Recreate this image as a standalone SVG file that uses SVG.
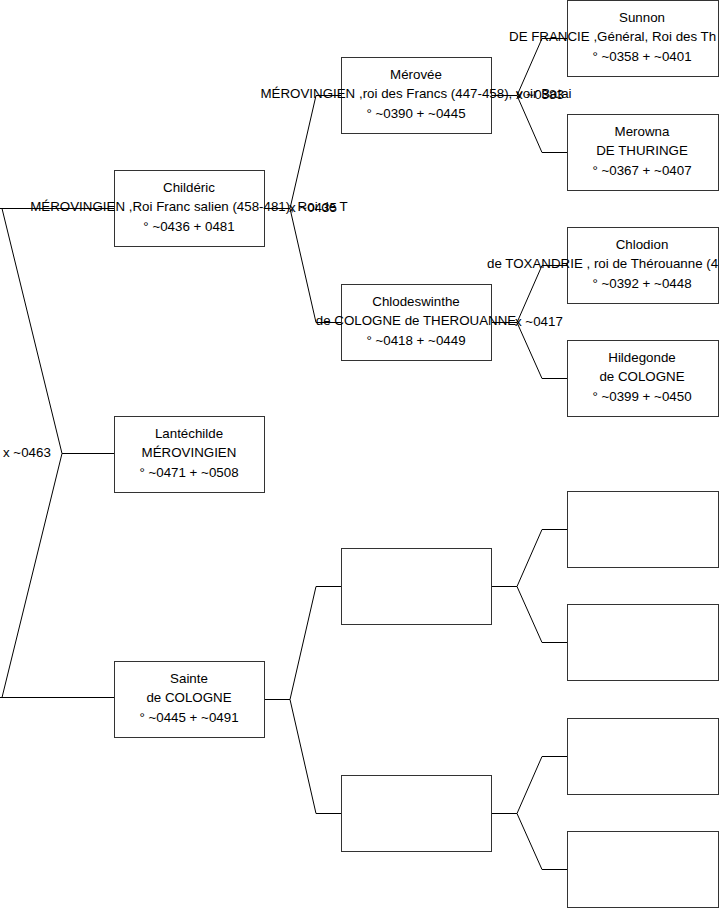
<svg xmlns="http://www.w3.org/2000/svg" width="719" height="908" viewBox="0 0 719 908">
<style>
.box{fill:#fff;stroke:#333;stroke-width:1}
.ln{fill:none;stroke:#000;stroke-width:1}
text{font-family:"Liberation Sans",Arial,sans-serif;font-size:13.33px;fill:#000}
.c{text-anchor:middle}
</style>
<rect width="719" height="908" fill="#fff"/>
<g id="connectors">
<path class="ln" d="M0,208.5H114 M2,208.5L62,453.5L2,697.5 M0,697.5H114 M62,453.5H114"/>
<path class="ln" d="M264,208.5H290 M316,95.5L290,208.5L316,322.5 M316,95.5H341 M316,322.5H341"/>
<path class="ln" d="M491,95.5H517 M542,38.5L517,95.5L542,152.5 M542,38.5H567 M542,152.5H567"/>
<path class="ln" d="M491,322.5H517 M542,265.5L517,322.5L542,378.5 M542,265.5H567 M542,378.5H567"/>
<path class="ln" d="M264,699.5H290 M316,586.5L290,699.5L316,813.5 M316,586.5H341 M316,813.5H341"/>
<path class="ln" d="M491,586.5H517 M542,529.5L517,586.5L542,642.5 M542,529.5H567 M542,642.5H567"/>
<path class="ln" d="M491,813.5H517 M542,756.5L517,813.5L542,869.5 M542,756.5H567 M542,869.5H567"/>
</g>
<g id="childeric">
<rect class="box" x="114.5" y="170.5" width="150" height="76"/>
<text class="c" x="189" y="191.5">Childéric</text>
<text class="c" x="189" y="211">MÉROVINGIEN ,Roi Franc salien (458-481), Roi de T</text>
<text class="c" x="189" y="230.5">° ~0436 + 0481</text>
</g>
<g id="lantechilde">
<rect class="box" x="114.5" y="416.5" width="150" height="76"/>
<text class="c" x="189" y="437.5">Lantéchilde</text>
<text class="c" x="189" y="457">MÉROVINGIEN</text>
<text class="c" x="189" y="476.5">° ~0471 + ~0508</text>
</g>
<g id="sainte">
<rect class="box" x="114.5" y="661.5" width="150" height="76"/>
<text class="c" x="189" y="682.5">Sainte</text>
<text class="c" x="189" y="702">de COLOGNE</text>
<text class="c" x="189" y="721.5">° ~0445 + ~0491</text>
</g>
<g id="merovee">
<rect class="box" x="341.5" y="57.5" width="150" height="76"/>
<text class="c" x="416" y="78.5">Mérovée</text>
<text class="c" x="416" y="98">MÉROVINGIEN ,roi des Francs (447-458), voir Batai</text>
<text class="c" x="416" y="117.5">° ~0390 + ~0445</text>
</g>
<g id="chlodeswinthe">
<rect class="box" x="341.5" y="284.5" width="150" height="76"/>
<text class="c" x="416" y="305.5">Chlodeswinthe</text>
<text class="c" x="416" y="325">de COLOGNE de THEROUANNE</text>
<text class="c" x="416" y="344.5">° ~0418 + ~0449</text>
</g>
<g id="empty1"><rect class="box" x="341.5" y="548.5" width="150" height="76"/></g>
<g id="empty2"><rect class="box" x="341.5" y="775.5" width="150" height="76"/></g>
<g id="sunnon">
<rect class="box" x="567.5" y="0.5" width="151" height="76"/>
<text class="c" x="642" y="21.5">Sunnon</text>
<text x="509" y="41">DE FRANCIE ,Général, Roi des Th</text>
<text class="c" x="642" y="60.5">° ~0358 + ~0401</text>
</g>
<g id="merowna">
<rect class="box" x="567.5" y="114.5" width="151" height="76"/>
<text class="c" x="642" y="135.5">Merowna</text>
<text class="c" x="642" y="155">DE THURINGE</text>
<text class="c" x="642" y="174.5">° ~0367 + ~0407</text>
</g>
<g id="chlodion">
<rect class="box" x="567.5" y="227.5" width="151" height="76"/>
<text class="c" x="642" y="248.5">Chlodion</text>
<text x="487" y="268">de TOXANDRIE , roi de Thérouanne (4</text>
<text class="c" x="642" y="287.5">° ~0392 + ~0448</text>
</g>
<g id="hildegonde">
<rect class="box" x="567.5" y="340.5" width="151" height="76"/>
<text class="c" x="642" y="361.5">Hildegonde</text>
<text class="c" x="642" y="381">de COLOGNE</text>
<text class="c" x="642" y="400.5">° ~0399 + ~0450</text>
</g>
<g id="empty3"><rect class="box" x="567.5" y="491.5" width="151" height="76"/></g>
<g id="empty4"><rect class="box" x="567.5" y="604.5" width="151" height="76"/></g>
<g id="empty5"><rect class="box" x="567.5" y="718.5" width="151" height="76"/></g>
<g id="empty6"><rect class="box" x="567.5" y="831.5" width="151" height="76"/></g>
<g id="labels">
<text x="289" y="212">x ~0435</text>
<text x="516" y="99">x ~0383</text>
<text x="515" y="326">x ~0417</text>
<text x="3" y="457">x ~0463</text>
</g>
</svg>
